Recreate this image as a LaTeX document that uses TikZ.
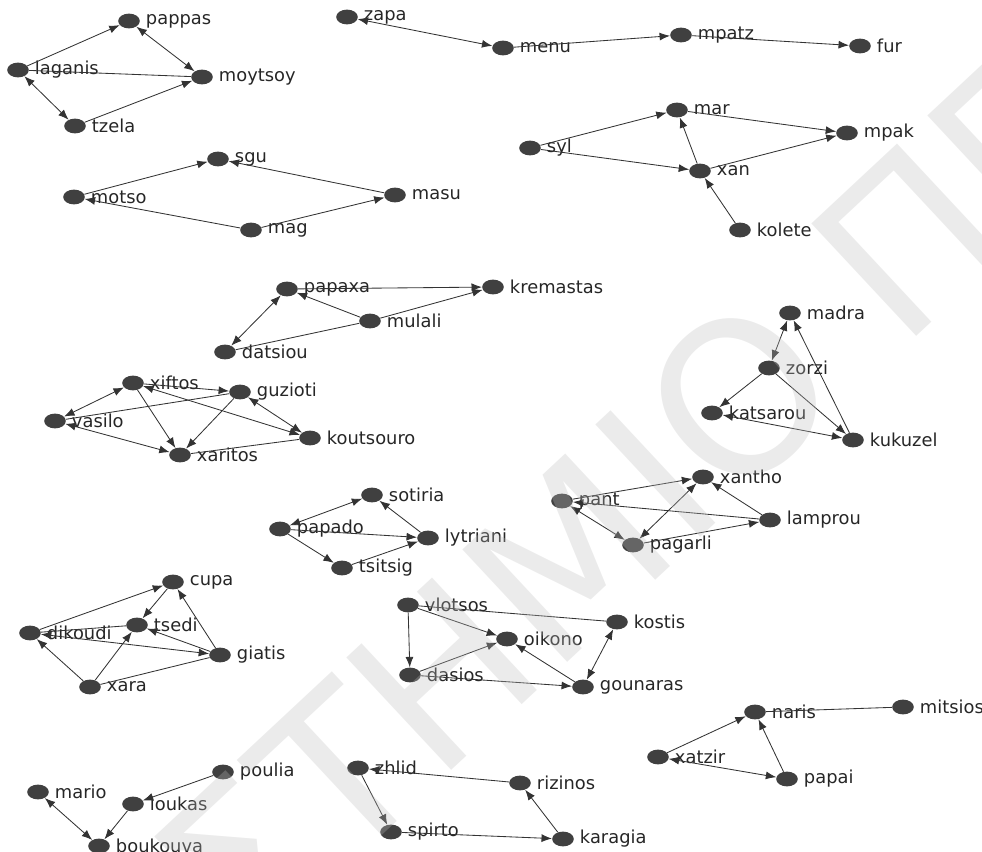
\documentclass[tikz,border=0pt]{standalone}
\usepackage{fontspec}
\setmainfont{DejaVu Sans}
\usetikzlibrary{shapes.geometric,arrows.meta}

\begin{document}
\begin{tikzpicture}[x=0.025cm,y=-0.025cm,
   dot/.style={ellipse,fill=black!75,minimum width=0.54cm,minimum height=0.37cm,inner sep=0pt},
   lbl/.style={font=\fontsize{12.7}{15}\selectfont,text=black!85,inner sep=0pt,xshift=4pt},
   link/.style={draw=black!80,line width=0.6pt},
   arc/.style={link,-{Latex[length=0.26cm,width=0.2cm]}},
   arcs/.style={link,{Latex[length=0.26cm,width=0.2cm]}-{Latex[length=0.26cm,width=0.2cm]}}]
         \useasboundingbox (0,0) rectangle (982,852) ;
         % the persons
         \node[dot,label={[lbl]right:pappas}] (pappas) at (129,21) {} ;
         \node[dot,label={[lbl]right:laganis}] (laganis) at (18,70) {} ;
         \node[dot,label={[lbl]right:moytsoy}] (moytsoy) at (202,77) {} ;
         \node[dot,label={[lbl]right:tzela}] (tzela) at (75,126) {} ;
         \node[dot,label={[lbl]right:sgu}] (sgu) at (218,159) {} ;
         \node[dot,label={[lbl]right:motso}] (motso) at (74,197) {} ;
         \node[dot,label={[lbl]right:mag}] (mag) at (251,230) {} ;
         \node[dot,label={[lbl]right:masu}] (masu) at (395,195) {} ;
         \node[dot,label={[lbl]right:zapa}] (zapa) at (347,17) {} ;
         \node[dot,label={[lbl]right:menu}] (menu) at (503,48) {} ;
         \node[dot,label={[lbl]right:mpatz}] (mpatz) at (681,35) {} ;
         \node[dot,label={[lbl]right:fur}] (fur) at (860,46) {} ;
         \node[dot,label={[lbl]right:syl}] (syl) at (530,148) {} ;
         \node[dot,label={[lbl]right:mar}] (mar) at (677,110) {} ;
         \node[dot,label={[lbl]right:mpak}] (mpak) at (847,133) {} ;
         \node[dot,label={[lbl]right:xan}] (xan) at (700,171) {} ;
         \node[dot,label={[lbl]right:kolete}] (kolete) at (740,230) {} ;
         \node[dot,label={[lbl]right:papaxa}] (papaxa) at (287,289) {} ;
         \node[dot,label={[lbl]right:kremastas}] (kremastas) at (493,287) {} ;
         \node[dot,label={[lbl]right:mulali}] (mulali) at (370,321) {} ;
         \node[dot,label={[lbl]right:datsiou}] (datsiou) at (225,352) {} ;
         \node[dot,label={[lbl]right:xiftos}] (xiftos) at (133,383) {} ;
         \node[dot,label={[lbl]right:guzioti}] (guzioti) at (240,392) {} ;
         \node[dot,label={[lbl]right:vasilo}] (vasilo) at (55,421) {} ;
         \node[dot,label={[lbl]right:koutsouro}] (koutsouro) at (310,438) {} ;
         \node[dot,label={[lbl]right:xaritos}] (xaritos) at (180,455) {} ;
         \node[dot,label={[lbl]right:madra}] (madra) at (790,313) {} ;
         \node[dot,label={[lbl]right:zorzi}] (zorzi) at (769,368) {} ;
         \node[dot,label={[lbl]right:katsarou}] (katsarou) at (712,413) {} ;
         \node[dot,label={[lbl]right:kukuzel}] (kukuzel) at (853,440) {} ;
         \node[dot,label={[lbl]right:sotiria}] (sotiria) at (372,495) {} ;
         \node[dot,label={[lbl]right:papado}] (papado) at (280,529) {} ;
         \node[dot,label={[lbl]right:lytriani}] (lytriani) at (428,538) {} ;
         \node[dot,label={[lbl]right:tsitsig}] (tsitsig) at (342,568) {} ;
         \node[dot,label={[lbl]right:xantho}] (xantho) at (703,477) {} ;
         \node[dot,label={[lbl]right:pant}] (pant) at (562,501) {} ;
         \node[dot,label={[lbl]right:lamprou}] (lamprou) at (770,520) {} ;
         \node[dot,label={[lbl]right:pagarli}] (pagarli) at (633,545) {} ;
         \node[dot,label={[lbl]right:cupa}] (cupa) at (173,582) {} ;
         \node[dot,label={[lbl]right:dikoudi}] (dikoudi) at (30,633) {} ;
         \node[dot,label={[lbl]right:tsedi}] (tsedi) at (137,625) {} ;
         \node[dot,label={[lbl]right:giatis}] (giatis) at (220,655) {} ;
         \node[dot,label={[lbl]right:xara}] (xara) at (90,687) {} ;
         \node[dot,label={[lbl]right:vlotsos}] (vlotsos) at (408,605) {} ;
         \node[dot,label={[lbl]right:kostis}] (kostis) at (617,622) {} ;
         \node[dot,label={[lbl]right:oikono}] (oikono) at (507,639) {} ;
         \node[dot,label={[lbl]right:dasios}] (dasios) at (410,675) {} ;
         \node[dot,label={[lbl]right:gounaras}] (gounaras) at (583,687) {} ;
         \node[dot,label={[lbl]right:naris}] (naris) at (755,712) {} ;
         \node[dot,label={[lbl]right:mitsios}] (mitsios) at (903,707) {} ;
         \node[dot,label={[lbl]right:xatzir}] (xatzir) at (658,757) {} ;
         \node[dot,label={[lbl]right:papai}] (papai) at (787,779) {} ;
         \node[dot,label={[lbl]right:mario}] (mario) at (38,792) {} ;
         \node[dot,label={[lbl]right:poulia}] (poulia) at (223,772) {} ;
         \node[dot,label={[lbl]right:loukas}] (loukas) at (133,804) {} ;
         \node[dot,label={[lbl]right:boukouva}] (boukouva) at (99,846) {} ;
         \node[dot,label={[lbl]right:zhlid}] (zhlid) at (358,768) {} ;
         \node[dot,label={[lbl]right:rizinos}] (rizinos) at (520,783) {} ;
         \node[dot,label={[lbl]right:spirto}] (spirto) at (391,832) {} ;
         \node[dot,label={[lbl]right:karagia}] (karagia) at (563,839) {} ;
         % the ties
         \draw[arc] (laganis) -- (pappas) ;
         \draw[arcs] (pappas) -- (moytsoy) ;
         \draw[link] (laganis) -- (moytsoy) ;
         \draw[arcs] (laganis) -- (tzela) ;
         \draw[arc] (tzela) -- (moytsoy) ;
         \draw[arc] (motso) -- (sgu) ;
         \draw[arc] (masu) -- (sgu) ;
         \draw[arc] (mag) -- (motso) ;
         \draw[arc] (mag) -- (masu) ;
         \draw[arcs] (zapa) -- (menu) ;
         \draw[arc] (menu) -- (mpatz) ;
         \draw[arc] (mpatz) -- (fur) ;
         \draw[arc] (syl) -- (mar) ;
         \draw[arc] (syl) -- (xan) ;
         \draw[arc] (xan) -- (mar) ;
         \draw[arc] (mar) -- (mpak) ;
         \draw[arc] (xan) -- (mpak) ;
         \draw[arc] (kolete) -- (xan) ;
         \draw[arc] (papaxa) -- (kremastas) ;
         \draw[arc] (mulali) -- (papaxa) ;
         \draw[arc] (mulali) -- (kremastas) ;
         \draw[arcs] (papaxa) -- (datsiou) ;
         \draw[link] (datsiou) -- (mulali) ;
         \draw[arcs] (vasilo) -- (xiftos) ;
         \draw[arc] (xiftos) -- (guzioti) ;
         \draw[link] (vasilo) -- (guzioti) ;
         \draw[arc] (xiftos) -- (xaritos) ;
         \draw[arc] (guzioti) -- (xaritos) ;
         \draw[arcs] (xiftos) -- (koutsouro) ;
         \draw[arcs] (guzioti) -- (koutsouro) ;
         \draw[arcs] (vasilo) -- (xaritos) ;
         \draw[link] (koutsouro) -- (xaritos) ;
         \draw[arcs] (madra) -- (zorzi) ;
         \draw[arc] (zorzi) -- (katsarou) ;
         \draw[arc] (zorzi) -- (kukuzel) ;
         \draw[arcs] (katsarou) -- (kukuzel) ;
         \draw[arc] (kukuzel) -- (madra) ;
         \draw[arcs] (sotiria) -- (papado) ;
         \draw[arc] (lytriani) -- (sotiria) ;
         \draw[arc] (papado) -- (lytriani) ;
         \draw[arc] (papado) -- (tsitsig) ;
         \draw[arc] (tsitsig) -- (lytriani) ;
         \draw[arc] (pant) -- (xantho) ;
         \draw[arcs] (pant) -- (pagarli) ;
         \draw[arcs] (pagarli) -- (xantho) ;
         \draw[arc] (lamprou) -- (xantho) ;
         \draw[arc] (lamprou) -- (pant) ;
         \draw[arc] (pagarli) -- (lamprou) ;
         \draw[arc] (dikoudi) -- (cupa) ;
         \draw[arc] (cupa) -- (tsedi) ;
         \draw[link] (dikoudi) -- (tsedi) ;
         \draw[arcs] (giatis) -- (dikoudi) ;
         \draw[arc] (giatis) -- (tsedi) ;
         \draw[arc] (giatis) -- (cupa) ;
         \draw[arc] (xara) -- (dikoudi) ;
         \draw[arc] (xara) -- (tsedi) ;
         \draw[link] (xara) -- (giatis) ;
         \draw[arc] (vlotsos) -- (dasios) ;
         \draw[arc] (vlotsos) -- (oikono) ;
         \draw[link] (vlotsos) -- (kostis) ;
         \draw[arc] (dasios) -- (oikono) ;
         \draw[arc] (dasios) -- (gounaras) ;
         \draw[arc] (gounaras) -- (oikono) ;
         \draw[arcs] (kostis) -- (gounaras) ;
         \draw[link] (naris) -- (mitsios) ;
         \draw[arc] (xatzir) -- (naris) ;
         \draw[arcs] (xatzir) -- (papai) ;
         \draw[arc] (papai) -- (naris) ;
         \draw[arcs] (mario) -- (boukouva) ;
         \draw[arc] (poulia) -- (loukas) ;
         \draw[arc] (loukas) -- (boukouva) ;
         \draw[arc] (zhlid) -- (spirto) ;
         \draw[arc] (rizinos) -- (zhlid) ;
         \draw[arc] (spirto) -- (karagia) ;
         \draw[arc] (karagia) -- (rizinos) ;
         % watermark
         \node[font=\fontsize{150}{150}\selectfont,text=black!26,opacity=0.3,rotate=43] (stamp) at (650,480) {ΣΤΗΜΙΟ ΠΕΙ} ;
\end{tikzpicture}
\end{document}
